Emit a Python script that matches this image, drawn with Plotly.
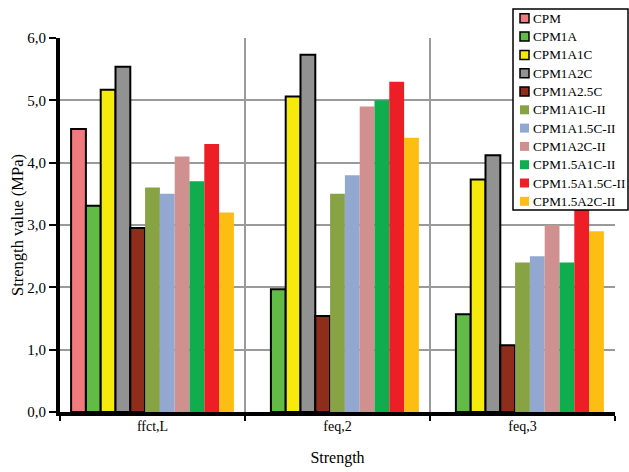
import plotly.graph_objects as go

# Strength parameters on the category axis
categories = ["ffct,L", "feq,2", "feq,3"]

# Mixture names (legend order)
series_names = [
    "CPM", "CPM1A", "CPM1A1C", "CPM1A2C", "CPM1A2.5C",
    "CPM1A1C-II", "CPM1A1.5C-II", "CPM1A2C-II",
    "CPM1.5A1C-II", "CPM1.5A1.5C-II", "CPM1.5A2C-II",
]

# Strength values (MPa) per mixture, one value per category
cpm = [4.54, None, None]
cpm1a = [3.31, 1.97, 1.57]
cpm1a1c = [5.17, 5.06, 3.73]
cpm1a2c = [5.54, 5.73, 4.12]
cpm1a25c = [2.95, 1.54, 1.07]
cpm1a1c_ii = [3.60, 3.50, 2.40]
cpm1a15c_ii = [3.50, 3.80, 2.50]
cpm1a2c_ii = [4.10, 4.90, 3.00]
cpm15a1c_ii = [3.70, 5.00, 2.40]
cpm15a15c_ii = [4.30, 5.30, 3.50]
cpm15a2c_ii = [3.20, 4.40, 2.90]

series_values = [
    cpm, cpm1a, cpm1a1c, cpm1a2c, cpm1a25c,
    cpm1a1c_ii, cpm1a15c_ii, cpm1a2c_ii,
    cpm15a1c_ii, cpm15a15c_ii, cpm15a2c_ii,
]

colors = [
    "#F07A7E", "#62BB46", "#F5EA0C", "#929292", "#8E2D1C",
    "#87A344", "#92A8D0", "#D09090", "#10AD4E", "#EE1E26", "#FDBE14",
]

# The first five mixtures are drawn with a black outline
outlined = [True] * 5 + [False] * 6

serif = "Liberation Serif"

W, H = 629, 472
L, R, T, B = 60, 14, 38, 60
plot_w = W - L - R
plot_h = H - T - B


def px_x(px):
    """Page pixel x -> paper coordinate."""
    return (px - L) / plot_w


def px_y(py):
    """Page pixel y (from top) -> paper coordinate."""
    return (H - B - py) / plot_h


fig = go.Figure()
for name, vals, col, edge in zip(series_names, series_values, colors, outlined):
    fig.add_trace(go.Bar(
        x=categories,
        y=vals,
        name=name,
        marker=dict(
            color=col,
            line=dict(color="black" if edge else col, width=2 if edge else 0),
        ),
        showlegend=False,
    ))

# Legend box drawn over the plot, top right
shapes = [dict(
    type="rect", xref="paper", yref="paper", layer="above",
    x0=px_x(513), x1=px_x(628), y0=px_y(210), y1=px_y(9),
    fillcolor="white", line=dict(color="black", width=1.5),
)]
annotations = []
row0, row_step = 18.3, 18.3
for i, (name, col, edge) in enumerate(zip(series_names, colors, outlined)):
    cy = row0 + i * row_step
    shapes.append(dict(
        type="rect", xref="paper", yref="paper", layer="above",
        x0=px_x(520), x1=px_x(529), y0=px_y(cy + 4.5), y1=px_y(cy - 4.5),
        fillcolor=col,
        line=dict(color="black" if edge else col, width=1.5 if edge else 0),
    ))
    annotations.append(dict(
        xref="paper", yref="paper", x=px_x(531), y=px_y(cy),
        xanchor="left", yanchor="middle", showarrow=False,
        text=name, font=dict(family=serif, size=13.2, color="black"),
    ))

fig.update_layout(
    width=W,
    height=H,
    barmode="group",
    bargap=0.12,
    bargroupgap=0,
    separators=",.",
    plot_bgcolor="white",
    paper_bgcolor="white",
    margin=dict(l=L, r=R, t=T, b=B, autoexpand=False),
    font=dict(family=serif, size=14, color="black"),
    showlegend=False,
    shapes=shapes,
    annotations=annotations,
)

fig.update_xaxes(
    type="category",
    tickson="boundaries",
    ticks="outside", ticklen=5, tickwidth=2, tickcolor="black",
    showgrid=True, gridcolor="#9A9A9A", gridwidth=2,
    showline=True, linecolor="black", linewidth=4,
    tickfont=dict(family=serif, size=14),
    ticklabelstandoff=-2,
    automargin=False,
    title=dict(text="Strength", font=dict(family=serif, size=16), standoff=20),
)

fig.update_yaxes(
    range=[0, 6],
    tick0=0, dtick=1,
    tickformat=".1f",
    ticks="outside", ticklen=7, tickwidth=2, tickcolor="black",
    showgrid=True, gridcolor="#9A9A9A", gridwidth=2,
    showline=True, linecolor="black", linewidth=4,
    zeroline=False,
    tickfont=dict(family=serif, size=15),
    automargin=False,
    title=dict(text="Strength value (MPa)", font=dict(family=serif, size=16.5), standoff=0),
)

fig.write_html("out.html")
